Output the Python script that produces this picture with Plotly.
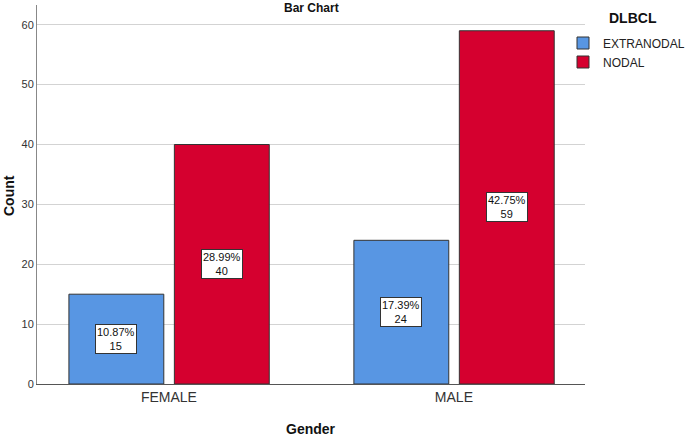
import plotly.graph_objects as go

categories = ["FEMALE", "MALE"]
series_names = ["EXTRANODAL", "NODAL"]
extranodal_counts = [15, 24]
nodal_counts = [40, 59]
extranodal_pct = ["10.87%", "17.39%"]
nodal_pct = ["28.99%", "42.75%"]
y_ticks = [0, 10, 20, 30, 40, 50, 60]

colors = ["#5896E3", "#D5002F"]
xs = list(range(len(categories)))
bar_w = 0.333
offsets = [-0.351, 0.019]

L, R, T, B = 37, 100, 5, 52
W, H = 685, 436
PW, PH = W - L - R, H - T - B


def px_x(px):
    return (px - L) / PW


def px_y(py):
    return 1 - (py - T) / PH


FONT = "Liberation Sans, Arial"

fig = go.Figure()
series_vals = [extranodal_counts, nodal_counts]
series_pct = [extranodal_pct, nodal_pct]
for name, vals, col, off in zip(series_names, series_vals, colors, offsets):
    fig.add_trace(go.Bar(
        x=xs, y=vals, name=name, width=bar_w, offset=off,
        marker=dict(color=col, line=dict(color="#333333", width=1)),
    ))

for vals, pcts, off in zip(series_vals, series_pct, offsets):
    for xi, v, p in zip(xs, vals, pcts):
        fig.add_annotation(
            x=xi + off + bar_w / 2, y=v / 2, xref="x", yref="y",
            text=f"{p}<br>{v}", showarrow=False,
            font=dict(family=FONT, size=11, color="#111111"),
            bgcolor="white", bordercolor="#333333", borderwidth=1, borderpad=1,
        )

fig.add_annotation(
    x=0.5, y=px_y(8), xref="paper", yref="paper", yanchor="middle",
    text="<b>Bar Chart</b>", showarrow=False,
    font=dict(family=FONT, size=12, color="#111111"),
)
fig.add_annotation(
    x=px_x(633), y=px_y(18), xref="paper", yref="paper", showarrow=False,
    xanchor="center", yanchor="middle",
    text="<b>DLBCL</b>",
    font=dict(family=FONT, size=14, color="#111111"),
)
fig.add_annotation(
    x=0.5, y=px_y(429), xref="paper", yref="paper", showarrow=False,
    xanchor="center", yanchor="middle",
    text="<b>Gender</b>",
    font=dict(family=FONT, size=14, color="#111111"),
)
fig.add_annotation(
    x=px_x(9), y=px_y(196), xref="paper", yref="paper", showarrow=False,
    xanchor="center", yanchor="middle", textangle=-90,
    text="<b>Count</b>",
    font=dict(family=FONT, size=14, color="#111111"),
)

fig.update_layout(
    width=W, height=H,
    margin=dict(l=L, r=R, t=T, b=B, autoexpand=False),
    paper_bgcolor="white", plot_bgcolor="white",
    barmode="overlay",
    showlegend=True,
    legend=dict(
        x=px_x(563), y=px_y(28.5), xanchor="left", yanchor="top",
        font=dict(family=FONT, size=12, color="#222222"),
        itemwidth=30, tracegroupgap=0, bgcolor="rgba(0,0,0,0)",
    ),
    font=dict(family=FONT, color="#222222"),
    xaxis=dict(
        range=[-0.463, 1.46], tickvals=xs, ticktext=categories,
        showgrid=False, showline=True, linecolor="#555555", linewidth=1,
        ticks="", tickfont=dict(size=14, color="#333333"),
        zeroline=False,
    ),
    yaxis=dict(
        range=[0, 63.3], tickvals=y_ticks,
        showgrid=True, gridcolor="#D3D3D3", gridwidth=1,
        showline=True, linecolor="#888888", linewidth=1,
        ticks="", tickfont=dict(size=11, color="#333333"),
        zeroline=False,
    ),
)

fig.write_html(
    "out.html",
    config={"displayModeBar": False},
    post_script="document.body.style.margin='0';document.body.style.padding='0';",
)
